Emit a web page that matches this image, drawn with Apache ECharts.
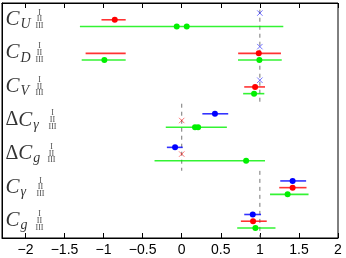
<!DOCTYPE html>
<html><head><meta charset="utf-8">
<script src="https://cdn.jsdelivr.net/npm/echarts@6/dist/echarts.min.js"></script>
<style>html,body{margin:0;padding:0;background:#fff}#c{width:346px;height:258px}</style>
</head><body><div id="c"></div>
<script>
// ---- data ----
const groupMain = ['C', 'C', 'C', 'C', 'C', 'C', 'C'];
const groupDelta = [false, false, false, true, true, false, false];
const groupSub = ['U', 'D', 'V', 'γ', 'g', 'γ', 'g'];
const subLabels = ['I', 'II', 'III'];
const xTicks = [-2, -1.5, -1, -0.5, 0, 0.5, 1, 1.5, 2];
// [group, low, high]
const blueBars = [[3, 0.264, 0.595], [4, -0.19, 0.013], [5, 1.261, 1.592], [6, 0.80, 1.015]];
const blueDots = [[3, 0.425], [4, -0.085], [5, 1.419], [6, 0.909]];
const blueCross = [[0, 1], [1, 1], [2, 1]];
const redBars = [[0, -1.027, -0.717], [1, -1.23, -0.717], [1, 0.722, 1.27], [2, 0.80, 1.066], [5, 1.248, 1.597], [6, 0.757, 1.088]];
const redDots = [[0, -0.857], [1, 0.986], [2, 0.939], [5, 1.419], [6, 0.913]];
const redCross = [[3, 0], [4, 0]];
const greenBars = [[0, -1.303, 1.30], [1, -1.28, -0.717], [1, 0.72, 1.28], [2, 0.786, 1.057], [3, -0.204, 0.578], [4, -0.348, 1.066], [5, 1.13, 1.623], [6, 0.71, 1.20]];
const greenDots = [[0, -0.064], [0, 0.064], [1, -0.99], [1, 0.994], [2, 0.926], [3, 0.17], [3, 0.21], [4, 0.824], [5, 1.355], [6, 0.943]];
// [x, firstGroup, lastGroup]
const refLines = [[1, 0, 2], [0, 3, 4], [1, 5, 6]];

// ---- layout ----
const X_MIN = -2.3, X_MAX = 2;
const ROWS_PER_GROUP = 5;
const Y_MAX = ROWS_PER_GROUP * groupMain.length;
const rowY = (g, s) => ROWS_PER_GROUP * g + 1.5 + s;
const smallLabelX = [38, 38, 38, 51, 50, 39, 38];
const BLUE = '#0000ff', RED = '#ff0000', GREEN = '#00f000';

function barSeries(data, color, sub) {
  return {
    type: 'custom', z: 2,
    data: data.map(d => [d[1], d[2], rowY(d[0], sub)]),
    encode: { x: [0, 1], y: 2 },
    renderItem(params, api) {
      const a = api.coord([api.value(0), api.value(2)]);
      const b = api.coord([api.value(1), api.value(2)]);
      return { type: 'line', shape: { x1: a[0], y1: a[1], x2: b[0], y2: b[1] },
        style: { stroke: color, lineWidth: 1.6, opacity: 0.8 } };
    }
  };
}
function dotSeries(data, color, sub) {
  return {
    type: 'scatter', z: 3, symbol: 'circle', symbolSize: 6,
    itemStyle: { color: color, opacity: 1 },
    data: data.map(d => [d[1], rowY(d[0], sub)])
  };
}
function crossSeries(data, color, sub) {
  return {
    type: 'custom', z: 3,
    data: data.map(d => [d[1], rowY(d[0], sub)]),
    encode: { x: 0, y: 1 },
    renderItem(params, api) {
      const p = api.coord([api.value(0), api.value(1)]);
      const r = 2.7;
      const st = { stroke: color, lineWidth: 1, opacity: 0.55 };
      return { type: 'group', children: [
        { type: 'line', shape: { x1: p[0] - r, y1: p[1] - r, x2: p[0] + r, y2: p[1] + r }, style: st },
        { type: 'line', shape: { x1: p[0] - r, y1: p[1] + r, x2: p[0] + r, y2: p[1] - r }, style: st }
      ] };
    }
  };
}

const refSeries = {
  type: 'custom', z: 1,
  data: refLines.map(d => [d[0], ROWS_PER_GROUP * d[1] + (d[1] === 0 ? 1 : 0), ROWS_PER_GROUP * (d[2] + 1)]),
  encode: { x: 0, y: [1, 2] },
  renderItem(params, api) {
    const a = api.coord([api.value(0), api.value(1)]);
    const b = api.coord([api.value(0), api.value(2)]);
    return { type: 'line', shape: { x1: a[0], y1: a[1], x2: b[0], y2: b[1] },
      style: { stroke: '#777', lineWidth: 1, lineDash: [4, 4] } };
  }
};

const mainLabelSeries = {
  type: 'scatter', z: 5, symbolSize: 1, silent: true,
  itemStyle: { color: 'transparent' },
  data: groupMain.map((m, g) => [X_MIN, rowY(g, 1)]),
  label: {
    show: true, position: [4, 0], align: 'left', verticalAlign: 'middle',
    formatter: p => {
      const g = p.dataIndex;
      return (groupDelta[g] ? '{d|Δ}' : '') + '{c|' + groupMain[g] + '}{s|' + groupSub[g] + '}';
    },
    rich: {
      d: { fontFamily: 'Liberation Serif', fontSize: 20, color: '#000' },
      c: { fontFamily: 'Liberation Serif', fontStyle: 'italic', fontSize: 21, color: '#000' },
      s: { fontFamily: 'Liberation Serif', fontStyle: 'italic', fontSize: 14, color: '#000', padding: [10, 0, 0, 1] }
    }
  }
};

const smallLabelSeries = {
  type: 'scatter', z: 5, symbolSize: 1, silent: true,
  itemStyle: { color: 'transparent' },
  data: [],
  label: { show: true }
};
groupMain.forEach((m, g) => {
  subLabels.forEach((t, s) => {
    smallLabelSeries.data.push({
      value: [X_MIN, rowY(g, s)],
      label: { show: true, formatter: t, position: [smallLabelX[g], 0], align: 'center', verticalAlign: 'middle',
        fontFamily: 'Liberation Serif', fontSize: 8, color: '#111' }
    });
  });
});

const chart = echarts.init(document.getElementById('c'), null, { renderer: 'canvas' });
const fmt = v => String(v).replace('-', '\u2212');
chart.setOption({
  animation: false,
  grid: { left: 2, right: 8, top: 3, bottom: 20, show: true, borderColor: '#000', borderWidth: 1, backgroundColor: 'transparent' },
  xAxis: [
    { type: 'value', min: X_MIN, max: X_MAX, position: 'bottom',
      axisLine: { show: true, onZero: false, lineStyle: { color: '#000' } },
      axisTick: { show: true, inside: true, length: 5, customValues: xTicks, lineStyle: { color: '#000' } },
      axisLabel: { show: true, customValues: xTicks, formatter: fmt, fontFamily: 'Liberation Sans', fontSize: 14, color: '#000', margin: 5 },
      splitLine: { show: false } },
    { type: 'value', min: X_MIN, max: X_MAX, position: 'top',
      axisLine: { show: true, onZero: false, lineStyle: { color: '#000' } },
      axisTick: { show: true, inside: true, length: 5, customValues: xTicks, lineStyle: { color: '#000' } },
      axisLabel: { show: false }, splitLine: { show: false } }
  ],
  yAxis: { type: 'value', min: 0, max: Y_MAX, inverse: true,
    axisLine: { show: true, onZero: false, lineStyle: { color: '#000' } },
    axisTick: { show: false }, axisLabel: { show: false }, splitLine: { show: false } },
  series: [
    refSeries,
    barSeries(blueBars, BLUE, 0), barSeries(redBars, RED, 1), barSeries(greenBars, GREEN, 2),
    crossSeries(blueCross, BLUE, 0), crossSeries(redCross, RED, 1),
    dotSeries(blueDots, BLUE, 0), dotSeries(redDots, RED, 1), dotSeries(greenDots, GREEN, 2),
    mainLabelSeries, smallLabelSeries
  ]
});
</script></body></html>
